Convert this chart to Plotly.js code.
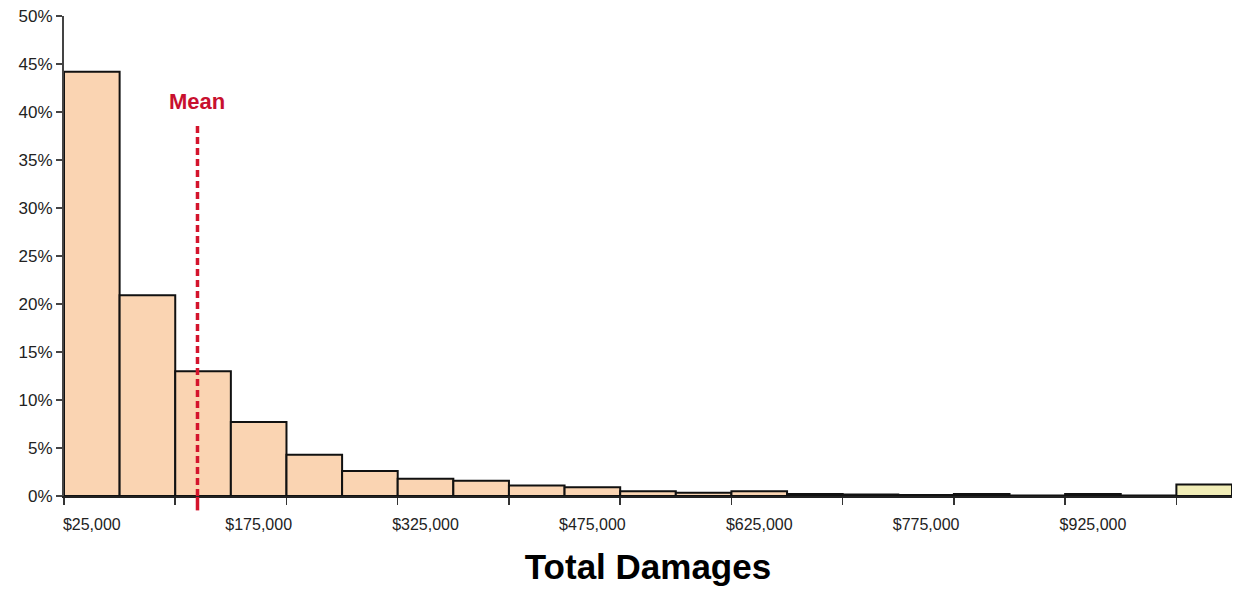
<!DOCTYPE html>
<html>
<head>
<meta charset="utf-8">
<script src="https://cdn.plot.ly/plotly-3.0.1.min.js"></script>
<style>html,body{margin:0;padding:0;background:#fff;}#chart{width:1238px;height:592px;}</style>
</head>
<body>
<div id="chart"></div>
<script>
// Bin centres (USD) and share of outcomes (%)
const binCenters = [25000, 75000, 125000, 175000, 225000, 275000, 325000, 375000, 425000, 475000,
                    525000, 575000, 625000, 675000, 725000, 775000, 825000, 875000, 925000, 975000, 1025000];
const shares = [44.2, 20.9, 13.0, 7.7, 4.3, 2.6, 1.8, 1.6, 1.1, 0.9,
                0.5, 0.35, 0.5, 0.2, 0.15, 0.1, 0.2, 0.05, 0.2, 0.05, 1.2];
const barFill = ['#FAD4B2','#FAD4B2','#FAD4B2','#FAD4B2','#FAD4B2','#FAD4B2','#FAD4B2','#FAD4B2','#FAD4B2','#FAD4B2',
                 '#FAD4B2','#FAD4B2','#FAD4B2','#FAD4B2','#FAD4B2','#FAD4B2','#FAD4B2','#FAD4B2','#FAD4B2','#FAD4B2','#F1EDB7'];
const tickLabelValues = [25000, 175000, 325000, 475000, 625000, 775000, 925000];
const tickLabelText = ['$25,000', '$175,000', '$325,000', '$475,000', '$625,000', '$775,000', '$925,000'];
const tickMarkValues = [0, 100000, 200000, 300000, 400000, 500000, 600000, 700000, 800000, 900000, 1000000];
const yTickValues = [0, 5, 10, 15, 20, 25, 30, 35, 40, 45, 50];
const yTickText = ['0%', '5%', '10%', '15%', '20%', '25%', '30%', '35%', '40%', '45%', '50%'];
const meanValue = 120000;
const meanLineTop = 38.6;

const xRange = [0, 1050000];

const traces = [
  {
    type: 'bar',
    x: binCenters,
    y: shares,
    width: 50000,
    marker: {color: barFill, line: {color: '#111111', width: 2}},
    hoverinfo: 'x+y',
    xaxis: 'x',
    yaxis: 'y'
  },
  {
    type: 'scatter',
    mode: 'markers',
    x: tickLabelValues,
    y: tickLabelValues.map(() => 0),
    marker: {opacity: 0},
    hoverinfo: 'skip',
    showlegend: false,
    xaxis: 'x2',
    yaxis: 'y'
  }
];

const layout = {
  width: 1238,
  height: 592,
  margin: {l: 64, r: 6, t: 16, b: 96},
  paper_bgcolor: '#ffffff',
  plot_bgcolor: '#ffffff',
  showlegend: false,
  bargap: 0,
  font: {family: 'Liberation Sans, Arial, sans-serif', color: '#222222'},
  xaxis: {
    range: xRange,
    tickmode: 'array',
    tickvals: tickMarkValues,
    showticklabels: false,
    ticks: 'outside',
    ticklen: 7,
    tickwidth: 1.5,
    tickcolor: '#333333',
    showgrid: false,
    zeroline: false,
    showline: true,
    linecolor: '#222222',
    linewidth: 2,
    fixedrange: true,
    title: {text: ''}
  },
  xaxis2: {
    range: xRange,
    overlaying: 'x',
    anchor: 'y',
    side: 'bottom',
    tickmode: 'array',
    tickvals: tickLabelValues,
    ticktext: tickLabelText,
    ticks: 'outside',
    ticklen: 14,
    tickcolor: 'rgba(0,0,0,0)',
    tickfont: {size: 16, color: '#222222'},
    showgrid: false,
    zeroline: false,
    showline: false,
    fixedrange: true,
    title: {text: 'Total Damages', font: {size: 35, color: '#000000', family: 'Liberation Sans, Arial, sans-serif', weight: 'bold'}, standoff: 22}
  },
  yaxis: {
    range: [0, 50],
    tickmode: 'array',
    tickvals: yTickValues,
    ticktext: yTickText,
    ticks: 'outside',
    ticklen: 6,
    tickwidth: 1.5,
    tickcolor: '#444444',
    tickfont: {size: 17, color: '#222222'},
    showgrid: false,
    zeroline: false,
    showline: true,
    linecolor: '#444444',
    linewidth: 2,
    fixedrange: true
  },
  shapes: [
    {
      type: 'line',
      xref: 'x', yref: 'y',
      x0: meanValue, x1: meanValue,
      y0: 0, y1: meanLineTop,
      line: {color: '#D4142C', width: 3.5, dash: '7px,4px'}
    },
    {
      type: 'line',
      xref: 'x', yref: 'paper',
      x0: meanValue, x1: meanValue,
      y0: -0.002, y1: -0.03,
      line: {color: '#D4142C', width: 3.5}
    }
  ],
  annotations: [
    {
      xref: 'x', yref: 'y',
      x: meanValue, y: meanLineTop,
      yshift: 24,
      text: '<b>Mean</b>',
      showarrow: false,
      font: {size: 22, color: '#C8102E', family: 'Liberation Sans, Arial, sans-serif'}
    }
  ]
};

Plotly.newPlot('chart', traces, layout, {displayModeBar: false, staticPlot: true});
</script>
</body>
</html>
